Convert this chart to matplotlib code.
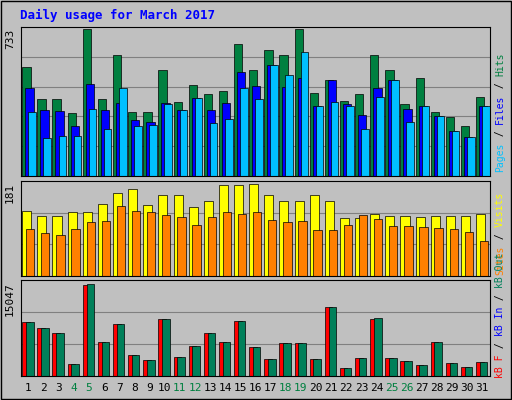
import matplotlib
matplotlib.use("Agg")
import matplotlib.pyplot as plt
import numpy as np

days = list(range(1, 32))
weekend = [4, 5, 11, 12, 18, 19, 25, 26]
hits = [535,381,381,312,723,381,594,317,317,520,366,446,401,416,649,520,619,594,723,406,470,371,401,594,520,352,480,317,292,248,391]
files = [431,327,322,248,451,327,357,277,267,357,327,386,327,361,510,441,545,436,480,342,470,352,302,431,470,332,342,297,223,193,342]
pages = [317,188,198,198,332,233,431,248,253,352,327,386,262,282,431,381,545,495,609,342,366,342,233,391,470,267,342,297,223,193,342]
visits = [123,114,114,121,121,137,158,166,135,154,154,131,142,173,173,175,154,142,142,154,142,110,110,119,114,114,112,114,114,114,119]
sites = [89,81,79,89,102,104,133,123,121,116,112,98,112,121,119,121,106,102,104,87,87,98,116,108,96,96,94,91,89,83,67]
kbf = [8395,7600,6811,1900,14255,5385,8078,3326,2534,8870,3009,4752,6811,5385,8553,4593,2693,5227,5227,2693,10770,1267,2851,8870,2851,2376,1742,5385,2059,1425,2217]
kbout = [8395,7600,6811,1900,14410,5385,8078,3326,2534,8870,3009,4752,6811,5385,8553,4593,2693,5227,5227,2693,10770,1267,2851,9030,2851,2376,1742,5385,2059,1425,2217]

BG = "#C0C0C0"
fig = plt.figure(figsize=(5.12, 4.0), dpi=100, facecolor=BG)
mono = "DejaVu Sans Mono"
fig.text(20/512, 1-15/400, "Daily usage for March 2017", color="#0000FF",
         fontsize=9, fontweight="bold", family=mono, va="center")

L, R = 21/512, 490/512
def mk(top, bot):
    ax = fig.add_axes([L, 1-bot/400, R-L, (bot-top)/400])
    ax.set_facecolor(BG)
    ax.set_xlim(0.5, 31.5)
    ax.set_xticks([])
    for s in ax.spines.values():
        s.set_color("#000000"); s.set_linewidth(0.8)
    ax.tick_params(left=False, labelleft=False)
    return ax

x = np.array(days, float)
ek = dict(edgecolor="black", linewidth=0.5, align="edge")

ax1 = mk(27, 176)
ax1.set_ylim(0, 733)
for g in np.linspace(0, 733, 6)[1:-1]:
    ax1.axhline(g, color="#808080", lw=0.8, zorder=0)
ax1.bar(x-0.42, hits, width=0.55, color="#008040", **ek)
ax1.bar(x-0.22, files, width=0.55, color="#0000FF", **ek)
ax1.bar(x-0.02, pages, width=0.5, color="#00C0FF", **ek)

ax2 = mk(181, 276)
ax2.set_ylim(0, 181)
for g in np.linspace(0, 181, 4)[1:-1]:
    ax2.axhline(g, color="#808080", lw=0.8, zorder=0)
ax2.bar(x-0.42, visits, width=0.6, color="#FFFF00", **ek)
ax2.bar(x-0.17, sites, width=0.55, color="#FF8000", **ek)

ax3 = mk(280, 376)
ax3.set_ylim(0, 15047)
for g in np.linspace(0, 15047, 4)[1:-1]:
    ax3.axhline(g, color="#808080", lw=0.8, zorder=0)
ax3.bar(x-0.42, kbf, width=0.5, color="#FF0000", **ek)
ax3.bar(x-0.17, kbout, width=0.5, color="#00805A", **ek)

for d in days:
    fig.text(L + (d-0.5)/31*(R-L), 1-388/400, str(d),
             color="#008040" if d in weekend else "#000000",
             fontsize=8, family=mono, ha="center", va="center")

for y, lab in [(27, "733"), (181, "181"), (280, "15047")]:
    fig.text(10/512, 1-(y+2)/400, lab, rotation=90, fontsize=8, family=mono,
             va="top", ha="center")

def rlabel(ybot, parts):
    # parts listed bottom to top, starting at pixel ybot
    ch = 6.0
    y = ybot
    for p, c in parts:
        h = len(p)*ch
        fig.text(500/512, 1-(y-h/2)/400, p, rotation=90, color=c, fontsize=7,
                 family=mono, ha="center", va="center")
        y -= h

rlabel(172, [("Pages", "#00C0FF"), (" / ", "#000000"), ("Files", "#0000FF"), (" / ", "#000000"), ("Hits", "#008040")])
rlabel(275, [("Sites", "#FF8000"), (" / ", "#000000"), ("Visits", "#FFFF00")])
rlabel(378, [("kB F", "#FF0000"), (" / ", "#000000"), ("kB In", "#0000FF"), (" / ", "#000000"), ("kB Out", "#00805A")])

border = plt.Rectangle((0.002, 0.002), 0.996, 0.996, transform=fig.transFigure,
                       fill=False, edgecolor="#000000", lw=1)
fig.patches.append(border)
fig.savefig("out.png", dpi=100, facecolor=BG)
